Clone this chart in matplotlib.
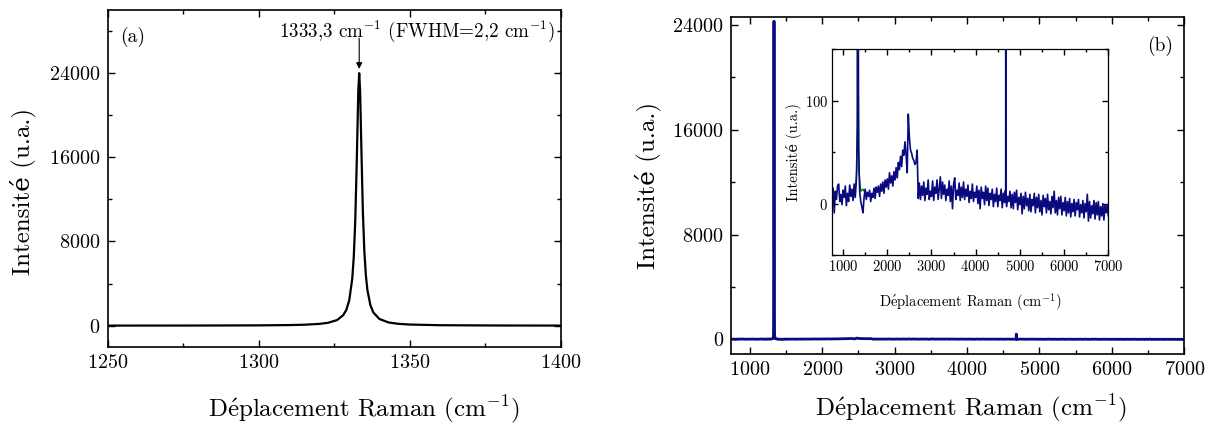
import numpy as np
import matplotlib
matplotlib.use("Agg")
import matplotlib.pyplot as plt
from matplotlib.ticker import MultipleLocator

plt.rcParams["font.family"] = ["cmr10", "DejaVu Serif"]
plt.rcParams["mathtext.fontset"] = "cm"
plt.rcParams["axes.formatter.use_mathtext"] = True
plt.rcParams["axes.unicode_minus"] = False

# --- (a) diamond line, Lorentzian-shaped peak
shift_a = [1250, 1280, 1300, 1310, 1315, 1320, 1323, 1326, 1328, 1329, 1330,
           1331, 1331.5, 1332, 1332.5, 1333, 1333.3, 1333.6, 1334, 1334.5,
           1335, 1335.5, 1336, 1337, 1338, 1340, 1343, 1346, 1350, 1360,
           1380, 1400]
counts_a = [4, 10, 26, 53, 86, 163, 270, 533, 991, 1474, 2400,
            4468, 6526, 10014, 15697, 22338, 24000, 22338, 17082, 10958,
            7083, 4800, 3416, 1949, 1246, 630, 305, 179, 104, 41,
            13, 6]

# --- (b) full spectrum, background sampled every 25 cm-1 from 750 cm-1
bg_start, bg_step = 750, 25
counts_bg = [
    0, 15, -9, 12, 4, 17, 19, 2, 9, -1,              # 750
    13, 6, 17, -2, 10, 2, 18, 7, 14, 3,              # 1000
    19, 6, 22, 75, 55, 12, 2, -3, -9, 6,             # 1250
    14, 4, 11, 7, 13, 2, 10, 6, 15, 5,               # 1500
    16, 11, 17, 7, 19, 12, 21, 10, 23, 16,           # 1750
    24, 14, 30, 20, 27, 17, 31, 23, 35, 25,          # 2000
    40, 33, 46, 36, 52, 47, 60, 48, 30, 87,          # 2250
    64, 52, 49, 44, 42, 38, 40, 52, 5, 20,           # 2500
    4, 17, 8, 21, 3, 15, 9, 23, 4, 12,               # 2750
    7, 22, 3, 16, 10, 23, 4, 14, 26, 5,              # 3000
    21, 9, 18, 3, 14, 8, 22, 2, 17, -5,              # 3250
    19, 25, 4, 13, 8, 20, 3, 16, 6, 21,              # 3500
    4, 14, 7, 18, 1, 12, 5, 19, 2, 11,               # 3750
    6, 17, 0, 13, -5, 16, 5, 11, -1, 17,             # 4000
    3, 15, -2, 10, 4, 14, -3, 9, 2, 15,              # 4250
    -3, 8, 3, 14, -4, 10, 1, 13, -3, 7,              # 4500
    2, 12, -4, 9, -5, 11, 1, 13, -6, 6,              # 4750
    -1, 10, -10, 7, -5, 11, -2, 5, -7, 9,            # 5000
    -8, 4, -2, 10, -9, 6, -4, 9, -8, 3,              # 5250
    -11, 8, -3, 5, -9, 9, -6, 2, -10, 7,             # 5500
    -4, 12, -9, 3, -11, 6, -5, 7, -11, 1,            # 5750
    -7, 6, -12, 2, -9, 5, -13, 0, -8, 4,             # 6000
    -12, 1, -6, 4, -13, -1, -9, 3, -14, 0,           # 6250
    -8, 9, -17, 2, -14, -2, -10, 3, -15, 1,          # 6500
    -11, 2, -16, -3, -12, 0, -16, -2, -9, -1,        # 6750
    -12,                                             # 7000
]
# sharp lines on top of the background (diamond peak + cosmic ray)
shift_lines = [1328, 1330, 1331.5, 1332.5, 1333.3, 1334, 1335, 1336.5, 1338.5,
               1342, 4678, 4680, 4682]
counts_lines = [300, 1200, 5000, 15000, 24300, 17000, 6000, 1800, 600,
                250, 5, 400, 5]
# green fit curve under the diamond peak
shift_fit = [1200, 1250, 1290, 1310, 1322, 1330, 1333.3, 1337, 1345, 1360,
             1400, 1450, 1500]
counts_fit = [9, 14, 20, 32, 90, 1800, 24300, 1500, 110, 30, 12, 14, 10]

shift_bg = bg_start + bg_step * np.arange(len(counts_bg))
shift_b = np.concatenate([shift_bg, shift_lines])
counts_b = np.concatenate([counts_bg, counts_lines])
order = np.argsort(shift_b, kind="stable")
shift_b, counts_b = shift_b[order], counts_b[order]

navy = "#0a0a80"
xlabel = r"D$\acute{\mathrm{e}}$placement Raman (cm$^{-1}$)"
ylabel = "Intensité (u.a.)"


def style(ax, size, major=5, minor=3):
    ax.tick_params(which="both", direction="in", top=True, right=True,
                   labelsize=size, width=1.0)
    ax.tick_params(which="major", length=major, pad=5)
    ax.tick_params(which="minor", length=minor)
    for sp in ax.spines.values():
        sp.set_linewidth(1.2)


fig = plt.figure(figsize=(12.15, 4.28), dpi=100)

# panel (a)
ax1 = fig.add_axes([0.0885, 0.190, 0.3730, 0.7866])
ax1.plot(shift_a, counts_a, color="black", lw=1.6)
ax1.set_xlim(1250, 1400)
ax1.set_ylim(-2000, 30000)
ax1.xaxis.set_major_locator(MultipleLocator(50))
ax1.xaxis.set_minor_locator(MultipleLocator(25))
ax1.yaxis.set_major_locator(MultipleLocator(8000))
ax1.yaxis.set_minor_locator(MultipleLocator(4000))
style(ax1, 14.5)
ax1.set_xlabel(xlabel, fontsize=18)
ax1.set_ylabel(ylabel, fontsize=18)
ax1.xaxis.set_label_coords(0.566, -0.137)
ax1.yaxis.set_label_coords(-0.158, 0.46)
ax1.text(0.028, 0.92, "(a)", transform=ax1.transAxes, fontsize=14,
         va="center", ha="left")
ax1.annotate("", xy=(1333.3, 24400), xytext=(1333.3, 27300),
             arrowprops=dict(arrowstyle="-|>", color="black", lw=0.8,
                             mutation_scale=9, shrinkA=0, shrinkB=0))
ax1.text(1352.5, 27400, r"1333,3 cm$^{-1}$ (FWHM=2,2 cm$^{-1}$)",
         fontsize=13.7, ha="center", va="baseline")

# panel (b)
ax2 = fig.add_axes([0.6014, 0.1722, 0.3733, 0.7874])
ax2.plot(shift_fit, counts_fit, color="green", lw=1.6)
ax2.plot(shift_b, counts_b, color=navy, lw=2.0)
ax2.set_xlim(735, 7000)
ax2.set_ylim(-1150, 24600)
ax2.xaxis.set_major_locator(MultipleLocator(1000))
ax2.xaxis.set_minor_locator(MultipleLocator(500))
ax2.yaxis.set_major_locator(MultipleLocator(8000))
ax2.yaxis.set_minor_locator(MultipleLocator(4000))
style(ax2, 14.5)
ax2.set_xlabel(xlabel, fontsize=18)
ax2.set_ylabel(ylabel, fontsize=18)
ax2.xaxis.set_label_coords(0.530, -0.114)
ax2.yaxis.set_label_coords(-0.154, 0.5)
ax2.text(0.975, 0.915, "(b)", transform=ax2.transAxes, fontsize=14,
         va="center", ha="right")

# inset
ax3 = fig.add_axes([0.6848, 0.4042, 0.2274, 0.4806])
ax3.plot(shift_fit, counts_fit, color="green", lw=1.0)
ax3.plot(shift_b, counts_b, color=navy, lw=1.2)
ax3.set_xlim(750, 7000)
ax3.set_ylim(-50, 150)
ax3.xaxis.set_major_locator(MultipleLocator(1000))
ax3.xaxis.set_minor_locator(MultipleLocator(500))
ax3.yaxis.set_major_locator(MultipleLocator(100))
ax3.yaxis.set_minor_locator(MultipleLocator(50))
style(ax3, 10.5, major=4, minor=2.5)
ax3.tick_params(which="major", pad=3)
for sp in ax3.spines.values():
    sp.set_linewidth(0.9)
ax3.set_xlabel(xlabel, fontsize=10.5, labelpad=12)
ax3.set_ylabel(ylabel, fontsize=10.5, labelpad=2)

fig.savefig("out.png", dpi=100)
